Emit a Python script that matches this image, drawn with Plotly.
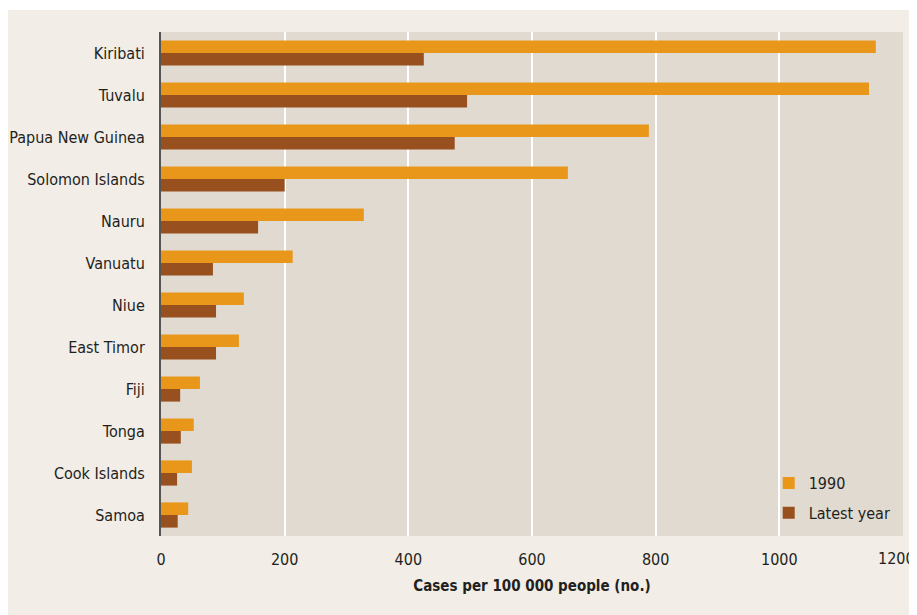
import plotly.graph_objects as go

countries = ["Kiribati", "Tuvalu", "Papua New Guinea", "Solomon Islands", "Nauru", "Vanuatu",
             "Niue", "East Timor", "Fiji", "Tonga", "Cook Islands", "Samoa"]
values_1990 = [1156, 1145, 789, 658, 328, 213, 134, 126, 63, 53, 50, 44]
values_latest = [425, 495, 475, 200, 157, 84, 89, 89, 31, 32, 26, 27]
x_ticks = [0, 200, 400, 600, 800, 1000, 1200]
x_tick_labels = ["0", "200", "400", "600", "800", "1000", "1200"]

FONT = "DejaVu Sans Condensed, Liberation Sans Narrow, sans-serif"
TXT = "#231F20"

fig = go.Figure()
fig.add_trace(go.Bar(y=countries, x=values_1990, orientation="h", name="1990", showlegend=True,
                     marker=dict(color="#E8971A", line=dict(width=0)), legend="legend"))
fig.add_trace(go.Bar(y=countries, x=values_latest, orientation="h", name="Latest year",
                     showlegend=True,
                     marker=dict(color="#98501E", line=dict(width=0)), legend="legend2"))

leg_common = dict(x=0.819, xanchor="left", yanchor="middle", bgcolor="rgba(0,0,0,0)",
                  font=dict(size=16, color=TXT), itemwidth=30, visible=True)

# last tick label drawn as annotation so it stays inside the figure edge
shown_labels = x_tick_labels[:-1] + [""]

fig.update_layout(
    width=909, height=607,
    showlegend=True,
    margin=dict(l=153, r=14, t=24, b=79, autoexpand=False),
    paper_bgcolor="#F2EDE7",
    plot_bgcolor="#E1DAD0",
    barmode="group", bargap=0.4, bargroupgap=0,
    font=dict(family=FONT, size=16, color=TXT),
    legend=dict(y=0.105, **leg_common),
    legend2=dict(y=0.046, **leg_common),
    xaxis=dict(range=[0, 1200], tickvals=x_ticks, ticktext=shown_labels,
               showgrid=True, gridcolor="#FFFFFF",
               gridwidth=2, zeroline=False, showline=False, ticks="", automargin=False,
               ticklabelstandoff=12, tickfont=dict(size=16),
               title=dict(text="<b>Cases per 100 000 people (no.)</b>",
                          font=dict(size=15), standoff=12)),
    yaxis=dict(autorange="reversed", showgrid=False, showline=True, linecolor="#555555",
               linewidth=2, ticks="", ticklabelstandoff=11, automargin=False,
               tickfont=dict(size=16)),
    annotations=[
        dict(text=x_tick_labels[-1], x=x_ticks[-1], xref="x", y=0, yref="paper",
             xanchor="right", yanchor="middle", xshift=14, yshift=-22, showarrow=False,
             font=dict(size=16, color=TXT)),
    ],
    shapes=[
        dict(type="rect", xref="paper", yref="paper", x0=-0.3, x1=1.1,
             y0=1.0 + 22 / 504, y1=1.2, fillcolor="#FFFFFF", line=dict(width=0), layer="below"),
    ],
)

fig.write_html("out.html")
